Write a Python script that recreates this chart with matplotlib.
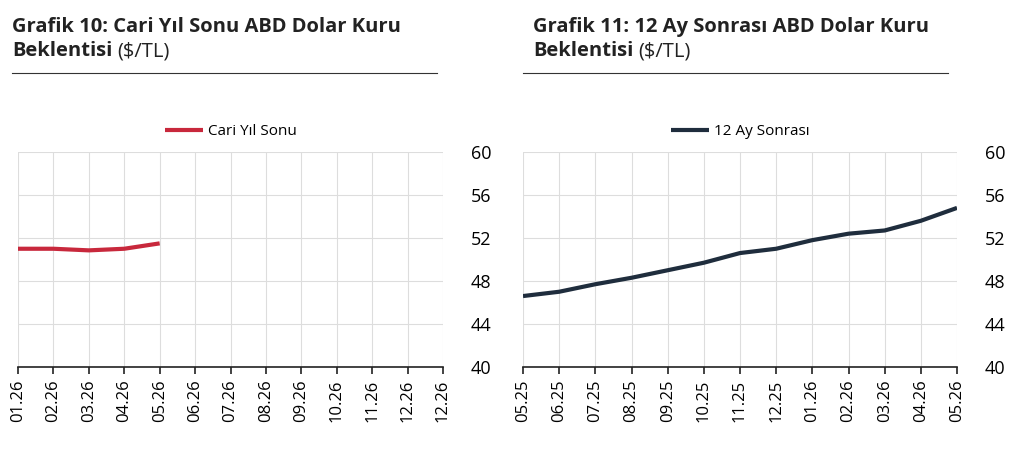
import matplotlib
matplotlib.use("Agg")
import matplotlib.pyplot as plt
from matplotlib.lines import Line2D

plt.rcParams['font.family'] = ['Open Sans', 'DejaVu Sans']

left_cats = ["01.26","02.26","03.26","04.26","05.26","06.26","07.26","08.26","09.26","10.26","11.26","12.26","12.26"]
left_vals = [51.0, 51.0, 50.85, 51.0, 51.5]
right_cats = ["05.25","06.25","07.25","08.25","09.25","10.25","11.25","12.25","01.26","02.26","03.26","04.26","05.26"]
right_vals = [46.6, 47.0, 47.7, 48.3, 49.0, 49.7, 50.6, 51.0, 51.8, 52.4, 52.7, 53.6, 54.8]
yticks = [40, 44, 48, 52, 56, 60]

fig = plt.figure(figsize=(10.24, 4.51), dpi=100)
W, H = 1024, 451

def panel(x0, x1, cats, vals, color, label, t1):
    ax = fig.add_axes([x0/W, 1-367/H, (x1-x0)/W, 215/H])
    ax.plot(range(len(vals)), vals, color=color, lw=3, label=label, solid_capstyle='butt')
    ax.set_xlim(0, len(cats)-1)
    ax.set_ylim(40, 60)
    ax.set_yticks(yticks)
    ax.set_xticks(range(len(cats)))
    ax.set_xticklabels(cats, rotation=90, fontsize=12)
    ax.yaxis.tick_right()
    ax.tick_params(axis='y', labelsize=13, length=0, pad=20)
    ax.tick_params(axis='x', length=5, width=1.2, color='#222222', pad=4, direction='out')
    ax.grid(True, color='#dddddd', lw=0.8)
    for k, s in ax.spines.items():
        s.set_visible(k == 'bottom')
    ax.spines['bottom'].set_color('#222222')
    ax.spines['bottom'].set_linewidth(1.2)
    ax.legend(loc='lower center', bbox_to_anchor=(0.5, 1.03), frameon=False, fontsize=11,
              handlelength=2.5, handletextpad=0.3, borderaxespad=0)
    tx = 12/W if x0 < 100 else (x0 + 10)/W
    fig.text(tx, 1-27/H, t1, fontsize=14.5, fontweight='bold', va='center', color='#222222')
    t = fig.text(tx, 1-51/H, "Beklentisi", fontsize=14.5, fontweight='bold', va='center', color='#222222')
    fig.canvas.draw()
    bb = t.get_window_extent()
    fig.text(bb.x1/W + 0.005, 1-51/H, "($/TL)", fontsize=14.5, va='center', color='#222222')
    return ax

panel(18, 443, left_cats, left_vals, '#c8283c', 'Cari Yıl Sonu',
      "Grafik 10: Cari Yıl Sonu ABD Dolar Kuru")
panel(523, 957, right_cats, right_vals, '#1f2d3d', '12 Ay Sonrası',
      "Grafik 11: 12 Ay Sonrası ABD Dolar Kuru")
fig.add_artist(Line2D([12/W, 437/W], [1-73/H]*2, color='#333333', lw=0.8))
fig.add_artist(Line2D([523/W, 948/W], [1-73/H]*2, color='#333333', lw=0.8))
fig.savefig("out.png", dpi=100)
